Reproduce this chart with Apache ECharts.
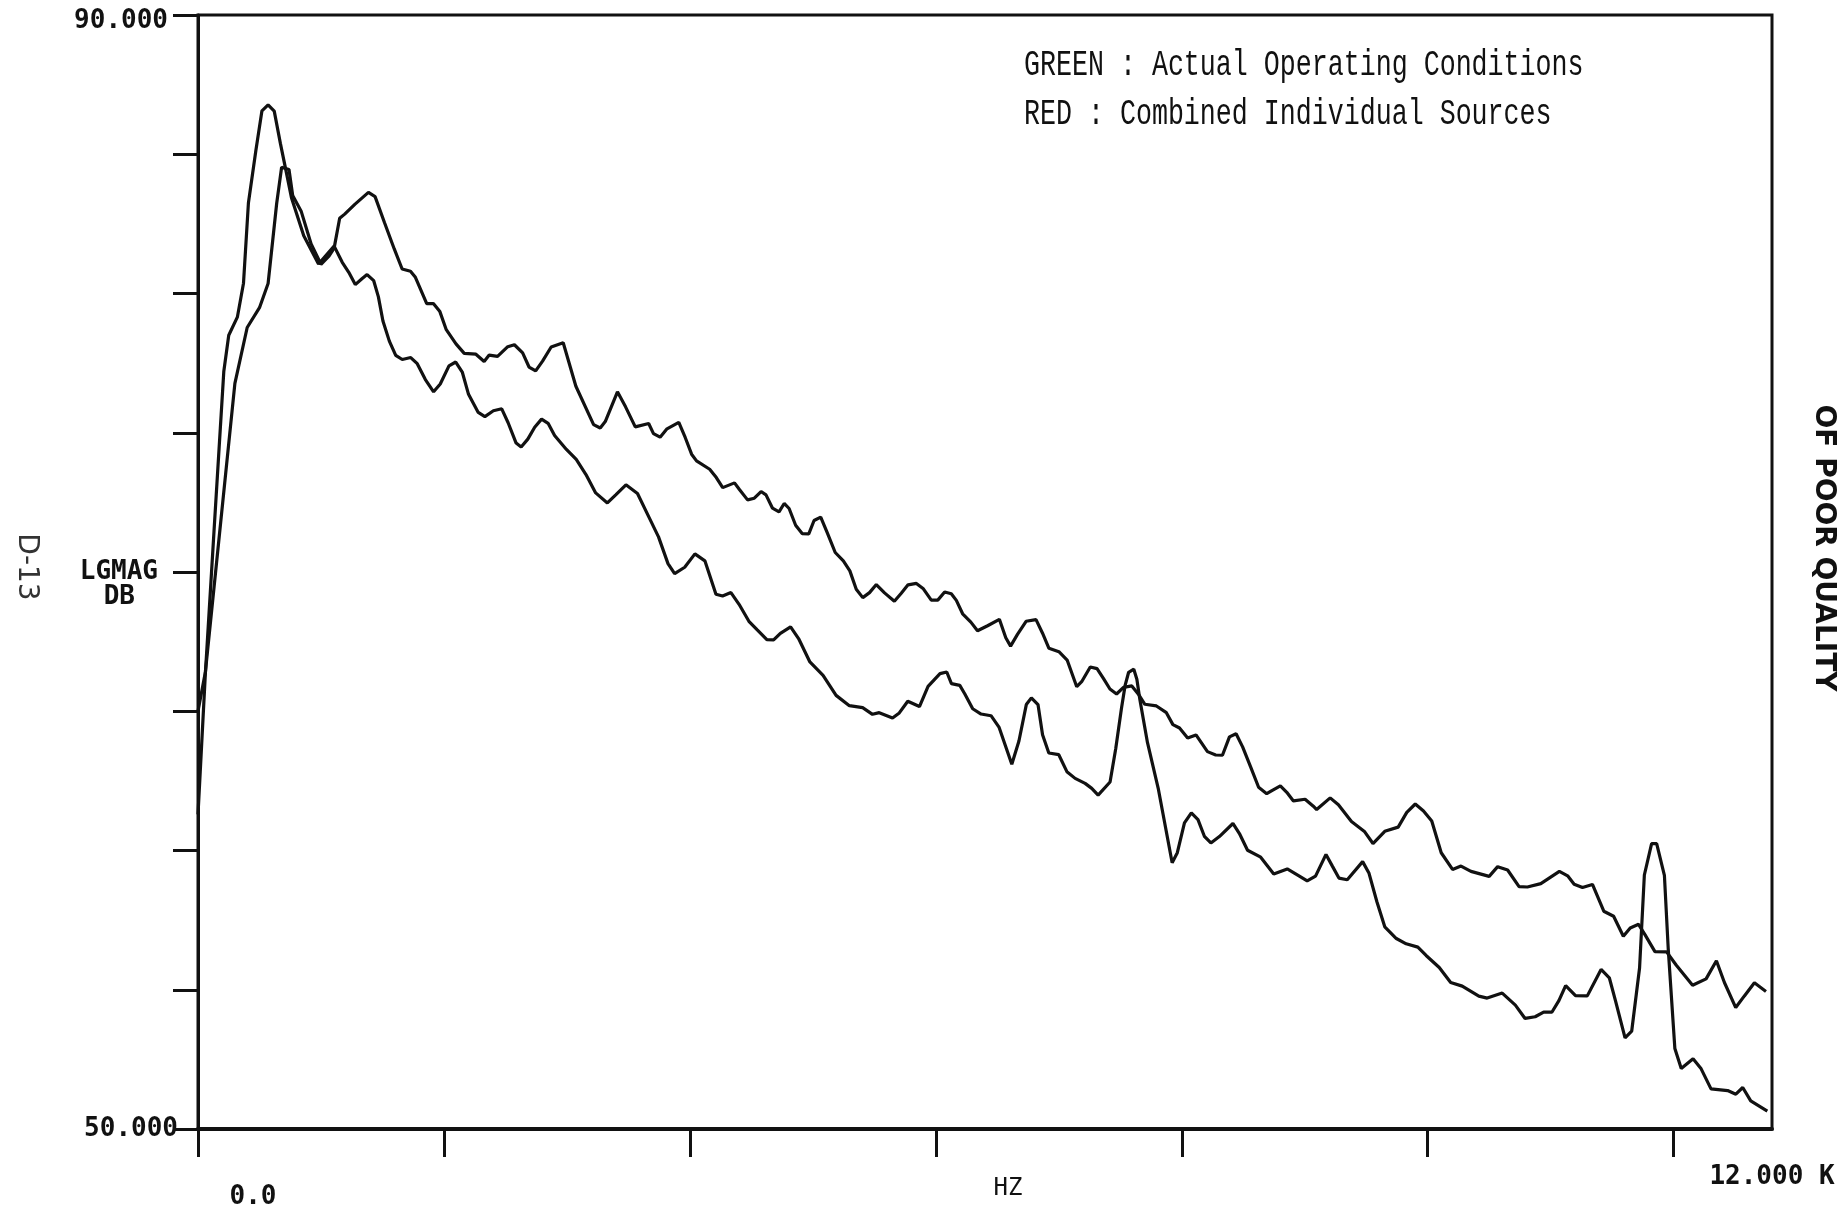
<!DOCTYPE html>
<html>
<head>
<meta charset="utf-8">
<script src="https://cdn.jsdelivr.net/npm/echarts@6/dist/echarts.min.js"></script>
<style>
  html, body { margin: 0; padding: 0; background: #ffffff; }
  #chart { width: 1844px; height: 1208px; }
</style>
</head>
<body>
<div id="chart"></div>
<script>
// ---- Data (frequency in kHz, level in dB) ----
const actualFreq = [
  0, 0.06, 0.13, 0.21, 0.25, 0.32, 0.37, 0.41, 0.47, 0.52, 0.57, 0.62, 0.67, 0.71, 0.76, 0.86, 0.98,
  1.107, 1.173, 1.226, 1.279, 1.333, 1.375, 1.429, 1.467, 1.504, 1.556, 1.608, 1.661, 1.730, 1.783, 1.849, 1.916, 1.970, 2.041, 2.096, 2.149, 2.200, 2.279, 2.333, 2.402, 2.470, 2.522, 2.587, 2.628, 2.682, 2.738, 2.794, 2.847, 2.900,
  2.996, 3.076, 3.155, 3.234, 3.329, 3.397, 3.480, 3.574, 3.666, 3.745, 3.822, 3.876, 3.958, 4.041, 4.122, 4.212, 4.266, 4.334, 4.400, 4.480, 4.546, 4.626, 4.681, 4.736, 4.819, 4.884, 4.976, 5.083, 5.189, 5.297, 5.405, 5.485, 5.540, 5.648, 5.703, 5.772, 5.867, 5.937,
  6.034, 6.089, 6.127, 6.195, 6.235, 6.300, 6.368, 6.449, 6.515, 6.618, 6.676, 6.736, 6.777, 6.831, 6.868, 6.919, 7.000, 7.066, 7.133, 7.214, 7.268, 7.320, 7.417, 7.463, 7.509, 7.539, 7.568, 7.610, 7.635, 7.659, 7.721, 7.810, 7.922, 7.964, 8.022, 8.078, 8.132, 8.184, 8.237, 8.306, 8.416, 8.469, 8.535, 8.642, 8.748, 8.858, 8.953, 9.020,
  9.088, 9.173, 9.226, 9.278, 9.346, 9.471, 9.523, 9.587, 9.651, 9.745, 9.825, 9.920, 9.987, 10.094, 10.187, 10.281, 10.416, 10.484, 10.606, 10.713, 10.792, 10.874, 10.943, 11.011, 11.067, 11.122, 11.202, 11.298, 11.410, 11.477, 11.528, 11.605, 11.659, 11.723, 11.762, 11.821, 11.862, 11.925, 11.956, 12.010, 12.062, 12.158, 12.224, 12.304, 12.439, 12.506, 12.562, 12.627, 12.762
];
const actualDb = [
  61.3, 66.36, 71.45, 77.21, 78.50, 79.15, 80.37, 83.25, 85.12, 86.56, 86.77, 86.55, 85.39, 84.53, 83.44, 82.07, 81.06,
  81.70, 81.12, 80.76, 80.32, 80.53, 80.68, 80.46, 79.88, 79.01, 78.29, 77.78, 77.63, 77.70, 77.48, 76.91, 76.47, 76.75, 77.40, 77.54, 77.18, 76.38, 75.73, 75.58, 75.79, 75.86, 75.36, 74.63, 74.49, 74.77, 75.20, 75.49, 75.34, 74.90,
  74.40, 74.04, 73.50, 72.84, 72.48, 72.77, 73.13, 72.82, 71.98, 71.26, 70.30, 69.94, 70.17, 70.65, 70.40, 69.20, 69.14, 69.26, 68.84, 68.23, 67.93, 67.57, 67.56, 67.80, 68.03, 67.61, 66.77, 66.29, 65.57, 65.20, 65.13, 64.89, 64.95, 64.76, 64.94, 65.36, 65.17, 65.89,
  66.35, 66.41, 65.99, 65.93, 65.63, 65.09, 64.90, 64.84, 64.42, 63.10, 63.93, 65.24, 65.48, 65.24, 64.16, 63.50, 63.44, 62.83, 62.59, 62.41, 62.23, 61.99, 62.46, 63.65, 65.08, 65.92, 66.40, 66.51, 66.15, 65.43, 63.88, 62.20, 59.56, 59.92, 60.99, 61.35, 61.11, 60.51, 60.27, 60.50, 60.97, 60.61, 60.01, 59.76, 59.16, 59.34, 59.09, 58.91,
  59.08, 59.86, 59.43, 59.01, 58.95, 59.60, 59.18, 58.16, 57.26, 56.84, 56.65, 56.53, 56.23, 55.80, 55.26, 55.13, 54.77, 54.70, 54.88, 54.45, 53.97, 54.03, 54.20, 54.20, 54.61, 55.15, 54.79, 54.78, 55.73, 55.43, 54.59, 53.27, 53.51, 55.78, 59.12, 60.25, 60.25, 59.11, 56.48, 52.89, 52.17, 52.52, 52.16, 51.44, 51.38, 51.25, 51.49, 51.01, 50.64
];
const combinedFreq = [
  0, 0.06, 0.30, 0.40, 0.50, 0.57, 0.64, 0.68, 0.74, 0.77, 0.84, 0.92, 1.00,
  1.065, 1.107, 1.152, 1.193, 1.275, 1.386, 1.440, 1.517, 1.596, 1.660, 1.728, 1.768, 1.860, 1.914, 1.967, 2.019, 2.098, 2.165, 2.260, 2.327, 2.368, 2.436, 2.519, 2.573, 2.640, 2.692, 2.746, 2.802, 2.872,
  2.970, 3.073, 3.217, 3.271, 3.312, 3.411, 3.477, 3.556, 3.665, 3.704, 3.758, 3.814, 3.910, 3.962, 4.014, 4.054, 4.161, 4.215, 4.267, 4.363, 4.403, 4.469, 4.524, 4.579, 4.619, 4.672, 4.725, 4.767, 4.807, 4.860, 4.913, 4.967, 5.010, 5.064, 5.116, 5.182, 5.248, 5.301, 5.353, 5.406, 5.461, 5.516, 5.583, 5.663, 5.719, 5.774, 5.842, 5.896, 5.963, 6.016, 6.072, 6.126,
  6.167, 6.218, 6.285, 6.339, 6.421, 6.517, 6.569, 6.608, 6.664, 6.734, 6.815, 6.867, 6.920, 7.001, 7.068, 7.146, 7.186, 7.256, 7.311, 7.364, 7.416, 7.470, 7.526, 7.594, 7.646, 7.700, 7.794, 7.875, 7.928, 7.982, 8.048, 8.116, 8.209, 8.276, 8.331, 8.388, 8.442, 8.495, 8.560, 8.625, 8.691, 8.733, 8.802, 8.854, 8.908, 9.003, 9.070,
  9.097, 9.207, 9.274, 9.380, 9.488, 9.555, 9.651, 9.760, 9.830, 9.899, 9.966, 10.033, 10.110, 10.202, 10.271, 10.352, 10.500, 10.569, 10.650, 10.743, 10.811, 10.920, 11.071, 11.138, 11.191, 11.259, 11.340, 11.432, 11.512, 11.591, 11.647, 11.715, 11.768, 11.848, 11.943, 12.022, 12.154, 12.264, 12.348, 12.413, 12.505, 12.574, 12.657, 12.751
];
const combinedDb = [
  65.0, 66.41, 76.77, 78.78, 79.49, 80.36, 83.24, 84.53, 84.45, 83.52, 82.94, 81.78, 81.05,
  81.34, 81.63, 82.70, 82.85, 83.20, 83.63, 83.48, 82.54, 81.60, 80.88, 80.80, 80.58, 79.64, 79.64, 79.35, 78.70, 78.19, 77.85, 77.82, 77.56, 77.79, 77.74, 78.09, 78.16, 77.87, 77.36, 77.22, 77.57, 78.08,
  78.23, 76.67, 75.29, 75.17, 75.40, 76.47, 75.93, 75.21, 75.33, 74.97, 74.84, 75.14, 75.37, 74.83, 74.23, 73.99, 73.69, 73.39, 73.03, 73.20, 72.96, 72.59, 72.65, 72.89, 72.77, 72.29, 72.16, 72.46, 72.28, 71.68, 71.38, 71.37, 71.85, 71.97, 71.42, 70.70, 70.40, 70.04, 69.38, 69.08, 69.26, 69.55, 69.25, 68.95, 69.24, 69.54, 69.59, 69.41, 68.99, 68.99, 69.28, 69.22,
  68.98, 68.50, 68.20, 67.89, 68.07, 68.30, 67.64, 67.34, 67.76, 68.23, 68.29, 67.81, 67.26, 67.14, 66.84, 65.88, 66.06, 66.59, 66.53, 66.17, 65.80, 65.62, 65.86, 65.91, 65.62, 65.25, 65.19, 64.95, 64.52, 64.40, 64.04, 64.15, 63.55, 63.43, 63.42, 64.08, 64.19, 63.72, 63.00, 62.27, 62.04, 62.15, 62.32, 62.09, 61.78, 61.84, 61.59,
  61.47, 61.89, 61.64, 61.04, 60.67, 60.25, 60.69, 60.84, 61.37, 61.67, 61.42, 61.06, 59.92, 59.32, 59.44, 59.25, 59.07, 59.42, 59.30, 58.70, 58.69, 58.81, 59.25, 59.09, 58.79, 58.67, 58.78, 57.82, 57.64, 56.92, 57.22, 57.35, 56.97, 56.37, 56.36, 55.88, 55.16, 55.39, 56.04, 55.26, 54.36, 54.77, 55.25, 54.94
];

// ---- Axis labels ----
const yLabelValues = [50, 70, 90];
const yLabelTexts = ['50.000', 'LGMAG\nDB', '90.000'];
const xTickValues = [0, 2, 4, 6, 8, 10, 12];
const xLabelValues = [0, 12.8];
const xLabelTexts = ['0.0', '12.000 K'];
const legendLines = ['GREEN : Actual Operating Conditions', 'RED : Combined Individual Sources'];

const INK = '#111111';
const MONO = '"DejaVu Sans Mono", "Liberation Mono", monospace';

function pairs(xs, ys) { return xs.map((x, i) => [x, ys[i]]); }

const chart = echarts.init(document.getElementById('chart'), null, { renderer: 'canvas' });

const option = {
  backgroundColor: '#ffffff',
  animation: false,
  grid: {
    left: 198, right: 72, top: 15, bottom: 79,
    outerBoundsMode: 'none', containLabel: false,
    show: true, borderColor: INK, borderWidth: 3, backgroundColor: 'transparent'
  },
  xAxis: {
    type: 'value', min: 0, max: 12.8, interval: 2,
    name: 'HZ', nameLocation: 'middle', nameGap: 48, nameMoveOverlap: false,
    nameTextStyle: { fontFamily: MONO, fontSize: 24, color: INK, padding: [0, 0, 0, 46] },
    axisLine: { show: true, onZero: false, lineStyle: { color: INK, width: 4 } },
    axisTick: { show: true, inside: false, length: 28, lineStyle: { color: INK, width: 3 }, customValues: xTickValues },
    axisLabel: {
      customValues: xLabelValues, margin: 35, color: INK,
      formatter: function (v) {
        const i = xLabelValues.indexOf(v);
        if (i < 0) return '';
        return i === 0 ? '{z|' + xLabelTexts[0] + '}' : '{k|' + xLabelTexts[1] + '}';
      },
      rich: {
        z: { fontFamily: MONO, fontWeight: 'bold', fontSize: 26, color: INK, padding: [20, 0, 0, 110] },
        k: { fontFamily: MONO, fontWeight: 'bold', fontSize: 26, color: INK }
      }
    },
    splitLine: { show: false }
  },
  yAxis: {
    type: 'value', min: 50, max: 90, interval: 5,
    axisLine: { show: true, onZero: false, lineStyle: { color: INK, width: 3 } },
    axisTick: { show: true, inside: false, length: 25, lineStyle: { color: INK, width: 3 } },
    axisLabel: {
      customValues: yLabelValues, margin: 20, color: INK,
      formatter: function (v) {
        const i = yLabelValues.indexOf(v);
        if (i < 0) return '';
        const t = yLabelTexts[i];
        if (v === 70) { const p = t.split('\n'); return '{e| }\n{m|' + p[0] + '}\n{d|' + p[1] + '}'; }
        if (v === 90) return '{t|' + t + '}';
        return '{b|' + t + '}';
      },
      rich: {
        t: { fontFamily: MONO, fontWeight: 'bold', fontSize: 26, color: INK, padding: [12, 10, 0, 0] },
        b: { fontFamily: MONO, fontWeight: 'bold', fontSize: 26, color: INK },
        e: { fontFamily: MONO, fontSize: 10, lineHeight: 26 },
        m: { fontFamily: MONO, fontWeight: 'bold', fontSize: 26, color: INK, lineHeight: 25, padding: [0, 20, 0, 0] },
        d: { fontFamily: MONO, fontWeight: 'bold', fontSize: 26, color: INK, lineHeight: 25, padding: [0, 43, 0, 0] }
      }
    },
    splitLine: { show: false }
  },
  series: [
    {
      name: 'Actual Operating Conditions', type: 'line', showSymbol: false, symbol: 'none',
      data: pairs(actualFreq, actualDb),
      lineStyle: { color: INK, width: 3.2 }, itemStyle: { color: INK }
    },
    {
      name: 'Combined Individual Sources', type: 'line', showSymbol: false, symbol: 'none',
      data: pairs(combinedFreq, combinedDb),
      lineStyle: { color: INK, width: 3.2 }, itemStyle: { color: INK }
    }
  ],
  graphic: [
    { type: 'text', x: 1024, y: 65, scaleX: 0.74, style: { text: legendLines[0], font: '36px "Liberation Mono", monospace', fill: INK, textAlign: 'left', textVerticalAlign: 'middle', verticalAlign: 'middle' } },
    { type: 'text', x: 1024, y: 114, scaleX: 0.74, style: { text: legendLines[1], font: '36px "Liberation Mono", monospace', fill: INK, textAlign: 'left', textVerticalAlign: 'middle', verticalAlign: 'middle' } },
    { type: 'text', x: 26, y: 567, rotation: -Math.PI / 2, style: { text: 'D-13', font: '28px "DejaVu Sans"', fill: '#333333', textAlign: 'center', align: 'center', verticalAlign: 'middle' } },
    { type: 'text', x: 1823, y: 548, rotation: -Math.PI / 2, style: { text: 'OF POOR QUALITY', font: 'bold 28px "DejaVu Sans"', fill: INK, textAlign: 'center', align: 'center', verticalAlign: 'middle' } }
  ]
};

chart.setOption(option);
</script>
</body>
</html>
